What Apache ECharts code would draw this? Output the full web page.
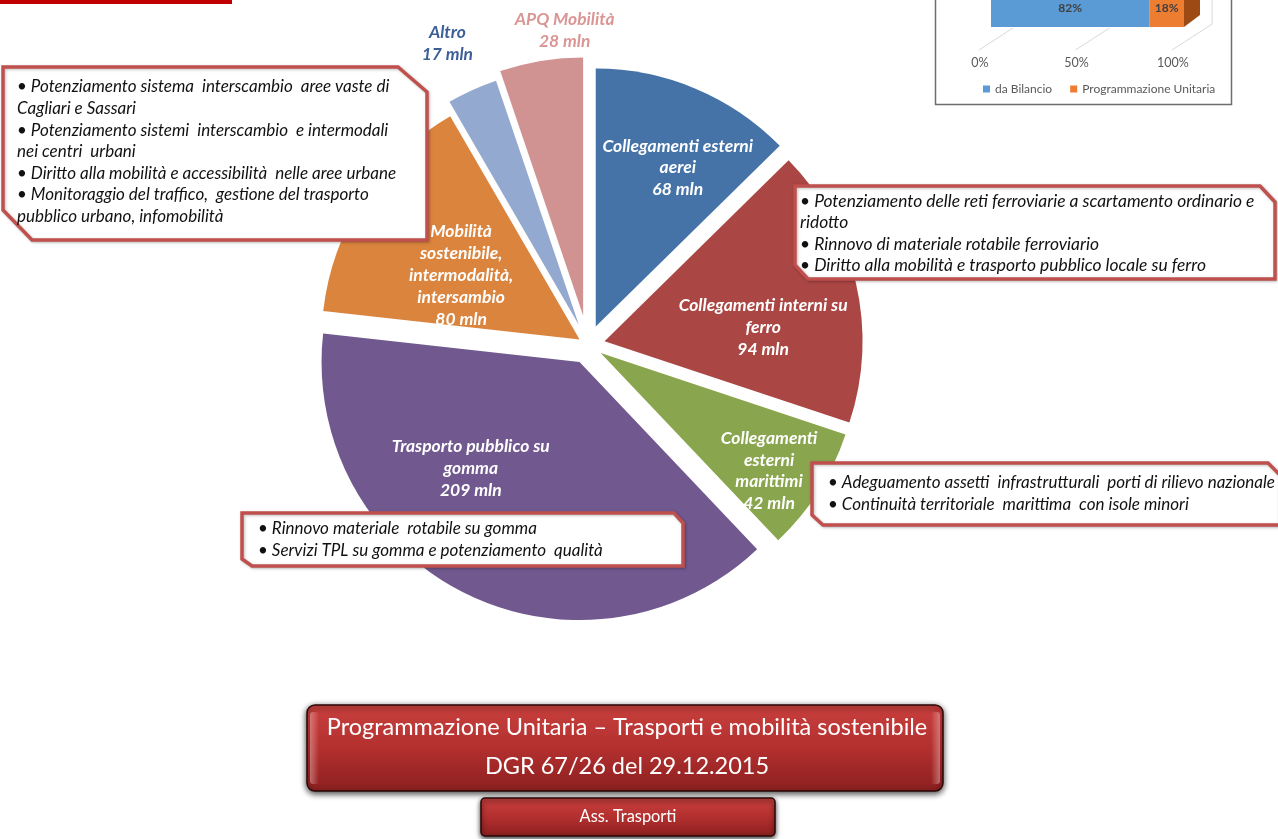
<!DOCTYPE html>
<html><head><meta charset="utf-8">
<script src="https://cdn.jsdelivr.net/npm/echarts@6/dist/echarts.min.js"></script>
<style>html,body{margin:0;padding:0;background:#fff}#c{width:1278px;height:839px}</style>
</head><body><div id="c"></div>
<script>
// ---------------- DATA ----------------
const sliceNames = ['Collegamenti esterni\naerei', 'Collegamenti interni su\nferro', 'Collegamenti\nesterni\nmarittimi', 'Trasporto pubblico su\ngomma', 'Mobilità\nsostenibile,\nintermodalità,\nintersambio', 'Altro', 'APQ Mobilità'];
const sliceValues = [68, 94, 42, 209, 80, 17, 28];
const valueUnit = ' mln';
const shareCategories = [''];
const shareSeriesNames = ['da Bilancio', 'Programmazione Unitaria'];
const daBilancio = [82];
const programmazioneUnitaria = [18];
const shareTicks = [0, 50, 100];
const tickSuffix = '%';
const calloutTexts = [
  '• Potenziamento sistema  interscambio  aree vaste di\nCagliari e Sassari\n• Potenziamento sistemi  interscambio  e intermodali\nnei centri  urbani\n• Diritto alla mobilità e accessibilità  nelle aree urbane\n• Monitoraggio del traffico,  gestione del trasporto\npubblico urbano, infomobilità',
  '• Potenziamento delle reti ferroviarie a scartamento ordinario e\nridotto\n• Rinnovo di materiale rotabile ferroviario\n• Diritto alla mobilità e trasporto pubblico locale su ferro',
  '• Adeguamento assetti  infrastrutturali  porti di rilievo nazionale\n• Continuità territoriale  marittima  con isole minori',
  '• Rinnovo materiale  rotabile su gomma\n• Servizi TPL su gomma e potenziamento  qualità'
];
const titleLines = ['Programmazione Unitaria – Trasporti e mobilità sostenibile', 'DGR 67/26 del 29.12.2015'];
const subtitleText = 'Ass. Trasporti';

// ---------------- STYLE / LAYOUT ----------------
const FONT = 'Lato, "Open Sans", sans-serif';
const SLICE_COLORS = ['#4572a7', '#aa4643', '#89a54e', '#71588f', '#db843d', '#93a9cf', '#d19392'];
const SLICE_EXPLODE = [20, 17, 15, 19, 10, 22, 30];
const OUTER_LABEL_COLORS = {5: '#3d5f98', 6: '#d99694'};
const LABEL_SHIFT = [[31, -37], [30, 16], [57, 47], [-50, -12], [-8, 8], [-77, -161], [3, -155]];
const PIE_CENTER = [588, 345];
const PIE_RADIUS = 258;
const CALLOUTS = [
  {box: [3, 67, 427, 240], tr: [29, 25], bl: [29, 30], tx: 17, ty: 87, size: 17},
  {box: [795, 186, 1275, 279], tr: [15, 16], bl: [13, 14], tx: 800, ty: 201, size: 17.4},
  {box: [812, 463, 1280, 525], tr: [12, 12], bl: [11, 10], tx: 828, ty: 483, size: 17},
  {box: [242, 513, 683, 566], tr: [9, 10], bl: [10, 7], tx: 258, ty: 529, size: 17}
];
const LH = 21.6;
const BAR_W = 38;

function cutBox(b, tr, bl) {
  const [x1, y1, x2, y2] = b;
  return [[x1, y1], [x2 - tr[0], y1], [x2, y1 + tr[1]], [x2, y2], [x1 + bl[0], y2], [x1, y2 - bl[1]]];
}
const redGrad = () => new echarts.graphic.LinearGradient(0, 0, 0, 1, [
  {offset: 0, color: '#c8403e'}, {offset: 0.5, color: '#b3302f'}, {offset: 1, color: '#8c1f1f'}]);

const graphics = [
  {type: 'rect', shape: {x: 0, y: 0, width: 232, height: 4}, style: {fill: '#c00000'}, z: 0},
  {type: 'rect', shape: {x: 935.5, y: -3, width: 296, height: 107.5}, style: {fill: '#fff', stroke: '#6e6e6e', lineWidth: 1.5}, z: 0}
];
CALLOUTS.forEach((c, i) => {
  graphics.push({type: 'polygon', z: 100, shape: {points: cutBox(c.box, c.tr, c.bl)},
    style: {fill: '#fff', stroke: '#c0504d', lineWidth: 3.5, lineJoin: 'miter', shadowBlur: 3, shadowColor: 'rgba(0,0,0,0.25)', shadowOffsetX: 1, shadowOffsetY: 1}});
  graphics.push({type: 'text', z: 101, style: {x: c.tx, y: c.ty - LH / 2, text: calloutTexts[i], fill: '#111',
    font: 'italic ' + c.size + 'px ' + FONT, lineHeight: LH, verticalAlign: 'top', align: 'left'}});
});
// title boxes
graphics.push({type: 'rect', z: 100, shape: {x: 307, y: 705, width: 636, height: 86, r: 8},
  style: {fill: redGrad(), stroke: '#2b0707', lineWidth: 1.5, shadowBlur: 6, shadowColor: 'rgba(0,0,0,0.75)', shadowOffsetY: 2}});
graphics.push({type: 'rect', z: 101, shape: {x: 310, y: 712, width: 9, height: 72, r: 3},
  style: {fill: new echarts.graphic.LinearGradient(0, 0, 1, 0, [{offset: 0, color: 'rgba(255,200,200,0.45)'}, {offset: 1, color: 'rgba(255,200,200,0)'}])}});
graphics.push({type: 'rect', z: 101, shape: {x: 931, y: 712, width: 9, height: 72, r: 3},
  style: {fill: new echarts.graphic.LinearGradient(1, 0, 0, 0, [{offset: 0, color: 'rgba(255,200,200,0.45)'}, {offset: 1, color: 'rgba(255,200,200,0)'}])}});
graphics.push({type: 'text', z: 102, style: {x: 627, y: 727, text: titleLines[0], fill: '#fff', font: '23.5px ' + FONT, align: 'center', verticalAlign: 'middle'}});
graphics.push({type: 'text', z: 102, style: {x: 627, y: 766, text: titleLines[1], fill: '#fff', font: '23.5px ' + FONT, align: 'center', verticalAlign: 'middle'}});
graphics.push({type: 'rect', z: 100, shape: {x: 481, y: 798, width: 294, height: 38, r: 4},
  style: {fill: redGrad(), stroke: '#2b0707', lineWidth: 1.5, shadowBlur: 5, shadowColor: 'rgba(0,0,0,0.75)', shadowOffsetY: 2}});
graphics.push({type: 'text', z: 102, style: {x: 628, y: 817, text: subtitleText, fill: '#fff', font: '16.4px ' + FONT, align: 'center', verticalAlign: 'middle'}});

const chart = echarts.init(document.getElementById('c'));
const stackTotal = daBilancio[0] + programmazioneUnitaria[0];

// one pie layer per slice so that every slice can have its own explosion distance;
// all layers share the same values, so angles come from the library's pie layout
const pieLayers = sliceValues.map((_, k) => ({
  type: 'pie', center: PIE_CENTER, radius: [0, PIE_RADIUS], startAngle: 90, clockwise: true,
  selectedMode: 'multiple', selectedOffset: SLICE_EXPLODE[k], avoidLabelOverlap: false, silent: true,
  emphasis: {disabled: true}, select: {itemStyle: {borderWidth: 0}},
  itemStyle: {borderWidth: 0},
  label: {show: true, position: 'inside', formatter: p => p.name + '\n' + p.value + valueUnit,
    color: '#fff', fontFamily: FONT, fontStyle: 'italic', fontWeight: 'bold', fontSize: 17.5, lineHeight: 21.8},
  labelLine: {show: false},
  labelLayout: p => (p.dataIndex === k ? {dx: LABEL_SHIFT[k][0], dy: LABEL_SHIFT[k][1]} : {}),
  data: sliceNames.map((n, i) => {
    const own = i === k;
    const d = {name: n, value: sliceValues[i], selected: own,
      itemStyle: {color: own ? SLICE_COLORS[i] : 'rgba(0,0,0,0)', borderWidth: 0}};
    if (!own) d.label = {show: false};
    else if (OUTER_LABEL_COLORS[i]) d.label = {color: OUTER_LABEL_COLORS[i], fontSize: 17.4};
    return d;
  })
}));

const barLabel = {show: true, position: 'inside', formatter: p => p.value + tickSuffix, color: '#404040', fontSize: 12, fontWeight: 'bold', fontFamily: FONT};

const option = {
  animation: false,
  graphic: graphics,
  legend: {data: shareSeriesNames, left: 983, top: 83, padding: 0, icon: 'rect', itemWidth: 7, itemHeight: 7, itemGap: 18,
    textStyle: {fontFamily: FONT, fontSize: 12, color: '#595959'}, selectedMode: false},
  grid: {left: 991, width: 193, top: -12, height: 40, containLabel: false, outerBoundsMode: 'none'},
  xAxis: {type: 'value', min: 0, max: 100, interval: 50,
    axisLine: {show: false}, axisTick: {show: false}, splitLine: {show: false},
    axisLabel: {formatter: v => v + tickSuffix, color: '#595959', fontSize: 12.5, fontFamily: FONT, margin: 28, padding: [0, 22, 0, 0]}},
  yAxis: {type: 'category', data: shareCategories, show: false},
  series: [
    ...pieLayers,
    {
      type: 'custom', z: 1, clip: false, silent: true,
      encode: {x: 0, y: 1},
      data: shareTicks.map(v => [v, 0]),
      renderItem: (params, api) => {
        const p = api.coord([api.value(0), 0]);
        const yb = p[1] + BAR_W / 2 + 1;
        const last = params.dataIndex === shareTicks.length - 1;
        const ext = last ? 1.18 : 1;
        const children = [{type: 'line', shape: {x1: p[0] - 12, y1: yb + 22, x2: p[0] - 12 + 34 * ext, y2: yb + 22 - 22 * ext}, style: {stroke: '#d9d9d9', lineWidth: 1}}];
        if (last) children.push({type: 'line', shape: {x1: p[0] - 12 + 34 * ext, y1: yb + 22 - 22 * ext, x2: p[0] - 12 + 34 * ext, y2: yb - 60}, style: {stroke: '#d9d9d9', lineWidth: 1}});
        return {type: 'group', children};
      }
    },
    {type: 'bar', name: shareSeriesNames[0], stack: 's', data: daBilancio, barWidth: BAR_W, z: 3, clip: false,
      itemStyle: {color: '#5b9bd5'}, label: barLabel},
    {type: 'bar', name: shareSeriesNames[1], stack: 's', data: programmazioneUnitaria, barWidth: BAR_W, z: 3, clip: false,
      itemStyle: {color: '#ed7d31'}, label: barLabel},
    {
      type: 'custom', z: 4, clip: false, silent: true,
      encode: {x: 0, y: 1},
      data: [[stackTotal, 0]],
      renderItem: (params, api) => {
        const p = api.coord([api.value(0), 0]);
        const half = BAR_W / 2;
        const top = p[1] - half, bot = p[1] + half;
        return {type: 'polygon', shape: {points: [[p[0], top], [p[0], bot], [p[0] + 16, bot - 12], [p[0] + 16, top - 12]]}, style: {fill: '#9e4a14'}};
      }
    }
  ]
};
chart.setOption(option);
</script></body></html>
